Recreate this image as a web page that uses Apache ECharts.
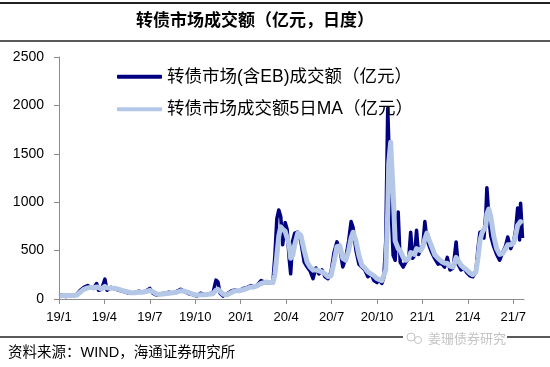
<!DOCTYPE html>
<html><head><meta charset="utf-8">
<script src="https://cdn.jsdelivr.net/npm/echarts@6/dist/echarts.min.js"></script>
<style>html,body{margin:0;padding:0;background:#fff}#c{width:550px;height:367px}</style>
</head><body><div id="c"></div>
<script>
const titleText = '转债市场成交额（亿元，日度）';
const sourceText = '资料来源：WIND，海通证券研究所';
const watermarkText = '姜珊债券研究';
const seriesNames = ['转债市场(含EB)成交额（亿元）', '转债市场成交额5日MA（亿元）'];
const yTicks = [0, 500, 1000, 1500, 2000, 2500];
const xTickLabels = ['19/1','19/4','19/7','19/10','20/1','20/4','20/7','20/10','21/1','21/4','21/7'];
const axisStart = '2019-01-01';
const axisEnd = '2021-07-23';

const dates = [
'2019-01-02','2019-01-07','2019-01-15','2019-01-23','2019-01-31',
'2019-02-06','2019-02-12','2019-02-19','2019-02-26',
'2019-03-04','2019-03-10','2019-03-16','2019-03-20','2019-03-26',
'2019-04-02','2019-04-06','2019-04-14','2019-04-22','2019-04-30',
'2019-05-08','2019-05-16','2019-05-24',
'2019-06-01','2019-06-09','2019-06-17','2019-06-25',
'2019-07-01','2019-07-07','2019-07-15','2019-07-23',
'2019-08-01','2019-08-09','2019-08-17','2019-08-25',
'2019-09-02','2019-09-10','2019-09-18','2019-09-26',
'2019-10-04','2019-10-12','2019-10-20','2019-10-28',
'2019-11-06','2019-11-12','2019-11-16','2019-11-20','2019-11-26',
'2019-12-04','2019-12-12','2019-12-20','2019-12-28',
'2020-01-06','2020-01-14','2020-01-22','2020-01-28',
'2020-02-03','2020-02-11','2020-02-14','2020-02-20','2020-02-28',
'2020-03-05','2020-03-09','2020-03-13','2020-03-17','2020-03-21','2020-03-25','2020-03-30',
'2020-04-03','2020-04-07','2020-04-10','2020-04-14','2020-04-18','2020-04-24','2020-04-30',
'2020-05-07','2020-05-13','2020-05-19','2020-05-25','2020-05-31',
'2020-06-06','2020-06-12','2020-06-18','2020-06-24','2020-06-30',
'2020-07-06','2020-07-12','2020-07-18','2020-07-24','2020-07-30',
'2020-08-05','2020-08-10','2020-08-14','2020-08-20','2020-08-26',
'2020-09-01','2020-09-07','2020-09-13','2020-09-19','2020-09-25',
'2020-10-01','2020-10-05','2020-10-11','2020-10-15','2020-10-19','2020-10-23','2020-10-25','2020-10-29',
'2020-11-03','2020-11-07','2020-11-13','2020-11-17','2020-11-23','2020-11-28',
'2020-12-04','2020-12-08','2020-12-12','2020-12-16','2020-12-20','2020-12-24','2020-12-28',
'2021-01-02','2021-01-06','2021-01-10','2021-01-14','2021-01-20','2021-01-26',
'2021-02-02','2021-02-08','2021-02-14','2021-02-19','2021-02-24',
'2021-03-02','2021-03-08','2021-03-12','2021-03-18','2021-03-24','2021-03-30',
'2021-04-05','2021-04-11','2021-04-17','2021-04-21','2021-04-25','2021-04-29',
'2021-05-03','2021-05-07','2021-05-09','2021-05-13','2021-05-17','2021-05-23','2021-05-29',
'2021-06-04','2021-06-10','2021-06-16','2021-06-20','2021-06-26',
'2021-07-02','2021-07-06','2021-07-10','2021-07-14','2021-07-16','2021-07-20'
];

const dailyVals = [
30,45,25,40,30, 50,90,120,140,
120,110,160,90,100,
205,90,120,105,90,
80,65,60,
65,80,70,90,
110,60,40,55,
60,70,60,80,
100,75,55,45,
30,60,40,55,
60,195,175,60,30,
55,80,95,80,
110,120,140,120,
140,190,205,170,165,
180,450,830,920,850,560,790,
720,420,260,600,680,690,600,
380,330,290,210,320,
260,300,230,210,280,
480,590,520,330,420,
600,800,740,500,360,
330,300,230,260,190,
170,200,160,220,600,1970,1650,1050,
450,400,900,380,330,380,
420,690,420,450,710,460,500,
560,800,620,560,480,420,
360,370,330,430,300,
320,590,360,300,320,270,
240,230,280,520,690,700,
630,900,1150,850,650,540,460,
400,480,550,640,520,
600,720,940,610,990,630
];

const maVals = [
30,35,35,35,35, 40,70,100,115,
120,115,125,115,105,
130,115,110,110,100,
85,75,65,
65,70,70,80,
90,75,50,50,
55,60,65,70,
85,80,65,50,
40,45,45,50,
55,90,100,80,50,
45,65,85,85,
95,110,125,125,
135,160,175,175,170,
170,250,450,650,745,720,700,
680,560,420,450,560,680,660,
500,380,330,300,300,
290,280,260,230,240,
380,540,550,420,400,
500,630,690,600,450,
350,320,280,260,240,
210,200,190,200,300,900,1400,1620,
1100,600,520,500,430,400,
420,480,470,460,520,500,500,
540,620,680,620,540,460,
420,390,370,370,340,
330,430,440,350,320,300,
270,250,280,420,600,680,
690,760,880,930,850,650,520,
460,470,520,560,560,
580,660,760,780,800,780
];

function toMonth(s) {
  const p = s.split('-').map(Number);
  const dim = new Date(p[0], p[1], 0).getDate();
  return (p[0] - 2019) * 12 + (p[1] - 1) + (p[2] - 1) / dim;
}
const xTickValues = xTickLabels.map(function (l) {
  const q = l.split('/').map(Number);
  return (q[0] - 19) * 12 + (q[1] - 1);
});
const labelMap = {};
xTickValues.forEach(function (v, i) { labelMap[v] = xTickLabels[i]; });

const dailyData = dates.map(function (d, i) { return [toMonth(d), dailyVals[i]]; });
const maData = dates.map(function (d, i) { return [toMonth(d), maVals[i]]; });

const FONT = "'Liberation Sans','Noto Sans CJK SC',sans-serif";
const chart = echarts.init(document.getElementById('c'), null, {renderer: 'canvas'});
chart.setOption({
  animation: false,
  backgroundColor: '#fff',
  grid: {left: 59, right: 26, top: 57, bottom: 68, containLabel: false},
  legend: {
    orient: 'vertical', left: 112, top: 63, itemWidth: 45, itemHeight: 4, itemGap: 15,
    icon: 'roundRect',
    textStyle: {fontFamily: FONT, fontSize: 17.5, color: '#000'},
    data: seriesNames
  },
  xAxis: {
    type: 'value', min: toMonth(axisStart), max: toMonth(axisEnd), interval: 3,
    splitLine: {show: false},
    axisLine: {lineStyle: {color: '#8c8c8c', width: 1}},
    axisTick: {show: true, length: 5, lineStyle: {color: '#8c8c8c'}, customValues: xTickValues},
    axisLabel: {
      customValues: xTickValues, margin: 12, color: '#000', fontFamily: FONT, fontSize: 13,
      formatter: function (v) { return labelMap[Math.round(v)] || ''; }
    }
  },
  yAxis: {
    type: 'value', min: yTicks[0], max: yTicks[yTicks.length - 1], interval: 500,
    splitLine: {show: false},
    axisLine: {show: true, lineStyle: {color: '#8c8c8c', width: 1}},
    axisTick: {show: true, length: 5, lineStyle: {color: '#8c8c8c'}},
    axisLabel: {margin: 15, color: '#000', fontFamily: FONT, fontSize: 14,
      formatter: function (v) { return String(v); }}
  },
  series: [
    {name: seriesNames[0], type: 'line', data: dailyData, showSymbol: false, symbol: 'none',
     lineStyle: {color: '#000080', width: 3.5, join: 'round'}, itemStyle: {color: '#000080'}, z: 2},
    {name: seriesNames[1], type: 'line', data: maData, showSymbol: false, symbol: 'none',
     lineStyle: {color: '#b4c7e7', width: 5, join: 'round'}, itemStyle: {color: '#b4c7e7'}, z: 3}
  ],
  graphic: [
    {type: 'line', shape: {x1: 0, y1: 3, x2: 550, y2: 3}, style: {stroke: '#222', lineWidth: 2}},
    {type: 'line', shape: {x1: 0, y1: 41, x2: 550, y2: 41}, style: {stroke: '#222', lineWidth: 1.5}},
    {type: 'line', shape: {x1: 0, y1: 337, x2: 550, y2: 337}, style: {stroke: '#222', lineWidth: 1.5}},
    {type: 'text', x: 255, y: 21, style: {text: titleText, fontFamily: FONT, fontSize: 17, fontWeight: 'bold',
      fill: '#000', align: 'center', verticalAlign: 'middle'}},
    {type: 'text', x: 8, y: 353, style: {text: sourceText, fontFamily: FONT, fontSize: 14.5,
      fill: '#000', align: 'left', verticalAlign: 'middle'}},
    {type: 'rect', shape: {x: 403, y: 332, width: 104, height: 12}, style: {fill: '#fff'}},
    {type: 'circle', shape: {cx: 411, cy: 337, r: 4}, style: {fill: 'none', stroke: '#c4c4c4', lineWidth: 1}},
    {type: 'circle', shape: {cx: 418, cy: 340, r: 3.5}, style: {fill: '#fff', stroke: '#c4c4c4', lineWidth: 1}},
    {type: 'text', x: 428, y: 339, style: {text: watermarkText, fontFamily: FONT, fontSize: 13,
      fill: '#c4c4c4', align: 'left', verticalAlign: 'middle'}}
  ]
});
</script></body></html>
